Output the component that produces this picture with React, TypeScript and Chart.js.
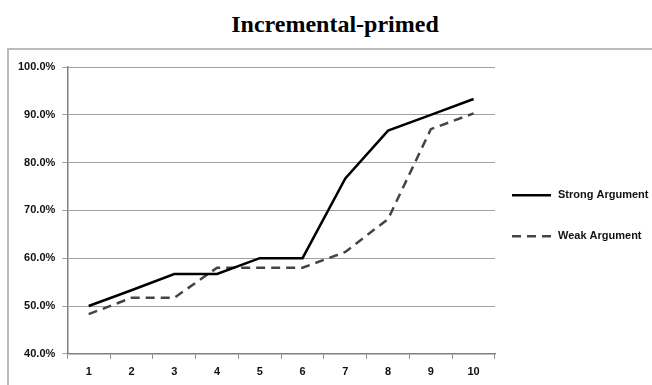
import React, { useEffect, useRef } from "react";
import { Chart, registerables } from "chart.js";

Chart.register(...registerables);

const categories = ["1", "2", "3", "4", "5", "6", "7", "8", "9", "10"];
const strongArgument = [50.0, 53.3, 56.7, 56.7, 60.0, 60.0, 76.7, 86.7, 90.0, 93.3];
const weakArgument = [48.3, 51.7, 51.7, 58.0, 58.0, 58.0, 61.3, 68.2, 87.0, 90.3];
const titleText = "Incremental-primed";
const seriesNames = ["Strong Argument", "Weak Argument"];

const FONT_FAMILY = "'Liberation Sans', Arial, sans-serif";

const sideLegend = {
  id: "sideLegend",
  afterDraw(chart: any) {
    const { ctx, chartArea } = chart;
    const x0 = chartArea.right + 17;
    const h = chartArea.bottom - chartArea.top;
    const y0 = chartArea.top + h * 0.447;
    ctx.save();
    ctx.font = `bold 11px ${FONT_FAMILY}`;
    ctx.textBaseline = "middle";
    ctx.textAlign = "left";
    chart.data.datasets.forEach((ds: any, i: number) => {
      const y = y0 + i * 41;
      ctx.strokeStyle = ds.borderColor;
      ctx.lineWidth = ds.borderWidth;
      ctx.setLineDash(ds.borderDash || []);
      ctx.beginPath();
      ctx.moveTo(x0, y);
      ctx.lineTo(x0 + 39, y);
      ctx.stroke();
      ctx.setLineDash([]);
      ctx.fillStyle = "#111";
      ctx.fillText(ds.label, x0 + 46, y);
    });
    ctx.restore();
  },
};

export default function App() {
  const ref = useRef<HTMLCanvasElement>(null);
  useEffect(() => {
    if (!ref.current) return;
    const font = { family: FONT_FAMILY, size: 11, weight: "bold" as const };
    const chart = new Chart(ref.current, {
      type: "line",
      data: {
        labels: categories,
        datasets: [
          {
            label: seriesNames[0],
            data: strongArgument,
            borderColor: "#000000",
            backgroundColor: "#000000",
            borderWidth: 2.5,
            pointRadius: 0,
            tension: 0,
          },
          {
            label: seriesNames[1],
            data: weakArgument,
            borderColor: "#444444",
            backgroundColor: "#444444",
            borderWidth: 2.5,
            borderDash: [9, 6],
            pointRadius: 0,
            tension: 0,
          },
        ],
      },
      plugins: [sideLegend],
      options: {
        animation: false,
        responsive: false,
        layout: { padding: { top: 18, right: 157, bottom: 0, left: 3 } },
        plugins: {
          tooltip: { enabled: false },
          title: { display: false },
          legend: { display: false },
        },
        scales: {
          x: {
            offset: true,
            grid: {
              offset: true,
              drawOnChartArea: false,
              drawTicks: true,
              tickLength: 5,
              color: "#888",
            },
            border: { color: "#808080", width: 1.5 },
            ticks: { color: "#111", font, padding: 7 },
          },
          y: {
            min: 40,
            max: 100,
            ticks: {
              stepSize: 10,
              color: "#111",
              font,
              padding: 7,
              callback: (v: any) => Number(v).toFixed(1) + "%",
            },
            grid: { color: "#a0a0a0", tickLength: 5, lineWidth: 1 },
            border: { color: "#808080", width: 1.5 },
          },
        },
      },
    });
    return () => chart.destroy();
  }, []);

  return (
    <div style={{ position: "absolute", left: 0, top: 0, width: 652, height: 385, background: "#fff", overflow: "hidden" }}>
      <div
        style={{
          position: "absolute",
          left: 185,
          width: 300,
          top: 12,
          textAlign: "center",
          fontFamily: "'Liberation Serif', 'Times New Roman', serif",
          fontWeight: "bold",
          fontSize: 24,
          lineHeight: "24px",
          color: "#000",
          whiteSpace: "nowrap",
        }}
      >
        {titleText}
      </div>
      <div
        style={{
          position: "absolute",
          left: 7,
          top: 48,
          width: 700,
          height: 400,
          borderTop: "2px solid #bcbcbc",
          borderLeft: "2px solid #bcbcbc",
          boxSizing: "border-box",
        }}
      />
      <canvas ref={ref} width={644} height={337} style={{ position: "absolute", left: 8, top: 49 }} />
    </div>
  );
}
